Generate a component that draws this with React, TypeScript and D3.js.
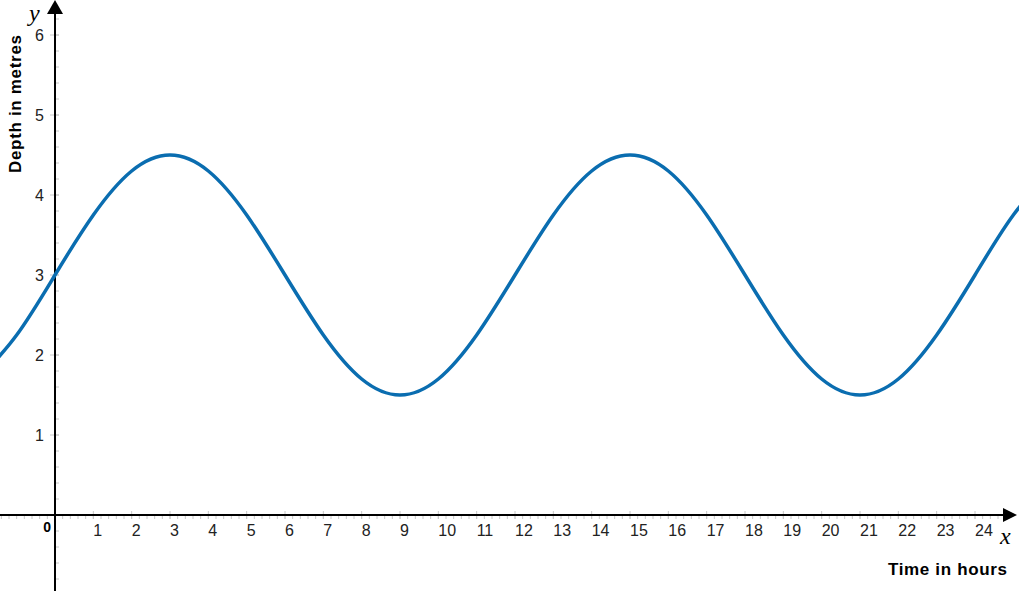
import React from "react";
import * as d3 from "d3";

const hours = [-2, -1, 0, 1, 2, 3, 4, 5, 6, 7, 8, 9, 10, 11, 12, 13, 14, 15, 16, 17, 18, 19, 20, 21, 22, 23, 24, 25, 26];
const depths = [1.7, 2.25, 3.0, 3.75, 4.3, 4.5, 4.3, 3.75, 3.0, 2.25, 1.7, 1.5, 1.7, 2.25, 3.0, 3.75, 4.3, 4.5, 4.3, 3.75, 3.0, 2.25, 1.7, 1.5, 1.7, 2.25, 3.0, 3.75, 4.3];
const xTickLabels = ["1", "2", "3", "4", "5", "6", "7", "8", "9", "10", "11", "12", "13", "14", "15", "16", "17", "18", "19", "20", "21", "22", "23", "24"];
const yTickLabels = ["1", "2", "3", "4", "5", "6"];

const W = 1019;
const H = 595;

export default function App() {
  const x = d3.scaleLinear().domain([0, 24]).range([55, 975]);
  const y = d3.scaleLinear().domain([0, 6]).range([515, 35]);
  const pts: [number, number][] = hours.map((h, i) => [h, depths[i]]);
  const line = d3
    .line<[number, number]>()
    .x((d) => x(d[0]))
    .y((d) => y(d[1]))
    .curve(d3.curveNatural);

  const x0 = x(0);
  const y0 = y(0);

  const xMinor: number[] = [];
  for (let v = -1.4; v <= 24.81; v += 0.2) xMinor.push(Math.round(v * 10) / 10);
  const yMinor: number[] = [];
  for (let v = -0.8; v <= 6.21; v += 0.2) yMinor.push(Math.round(v * 10) / 10);

  const font = "Arial, 'Liberation Sans', Helvetica, sans-serif";

  return (
    <svg
      width={W}
      height={H}
      style={{ position: "absolute", left: 0, top: 0, background: "#fff" }}
    >
      <defs>
        <clipPath id="plotclip">
          <rect x={0} y={0} width={W} height={H} />
        </clipPath>
      </defs>
      {xMinor.map((v, i) => (
        <line key={"xm" + i} x1={x(v)} x2={x(v)} y1={y0} y2={y0 + 4} stroke="#c8c8c8" strokeWidth={1} />
      ))}
      {xTickLabels.map((t, i) => (
        <line key={"xM" + i} x1={x(i + 1)} x2={x(i + 1)} y1={y0 - 4} y2={y0 + 4} stroke="#c8c8c8" strokeWidth={1} />
      ))}
      {yMinor.map((v, i) => (
        <line key={"ym" + i} x1={x0} x2={x0 + 4} y1={y(v)} y2={y(v)} stroke="#c8c8c8" strokeWidth={1} />
      ))}
      {yTickLabels.map((t, i) => (
        <line key={"yM" + i} x1={x0 - 5} x2={x0 + 4} y1={y(i + 1)} y2={y(i + 1)} stroke="#c8c8c8" strokeWidth={1} />
      ))}
      <line x1={0} x2={1004} y1={y0} y2={y0} stroke="#000" strokeWidth={2} />
      <line x1={x0} x2={x0} y1={591} y2={13} stroke="#000" strokeWidth={2} />
      <path d={`M${x0},0 L${x0 - 8},14 L${x0 + 8},14 Z`} fill="#000" />
      <path d={`M1017,${y0} L1003,${y0 - 7} L1003,${y0 + 7} Z`} fill="#000" />
      <path d={line(pts) || ""} fill="none" stroke="#0a6db0" strokeWidth={3.5} clipPath="url(#plotclip)" />
      {xTickLabels.map((t, i) => (
        <text key={"xl" + i} x={x(i + 1)} y={536} fontFamily={font} fontSize={16} fill="#222" textAnchor="start">
          {t}
        </text>
      ))}
      {yTickLabels.map((t, i) => (
        <text key={"yl" + i} x={44} y={y(i + 1) + 6} fontFamily={font} fontSize={16} fill="#222" textAnchor="end">
          {t}
        </text>
      ))}
      <text x={51} y={532} fontFamily={font} fontSize={14} fontWeight="bold" fill="#000" textAnchor="end">
        0
      </text>
      <text
        transform="translate(21,173) rotate(-90)"
        fontFamily={font}
        fontSize={17}
        fontWeight="bold"
        fill="#000"
        textAnchor="start"
        textLength={138}
        lengthAdjust="spacing"
      >
        Depth in metres
      </text>
      <text
        x={888}
        y={575}
        fontFamily={font}
        fontSize={17}
        fontWeight="bold"
        fill="#000"
        textAnchor="start"
        textLength={119}
        lengthAdjust="spacing"
      >
        Time in hours
      </text>
      <text x={29} y={21} fontFamily="'Liberation Serif', 'DejaVu Serif', serif" fontStyle="italic" fontSize={24} fill="#000">
        y
      </text>
      <text x={1000} y={544} fontFamily="'Liberation Serif', 'DejaVu Serif', serif" fontStyle="italic" fontSize={24} fill="#000">
        x
      </text>
    </svg>
  );
}
